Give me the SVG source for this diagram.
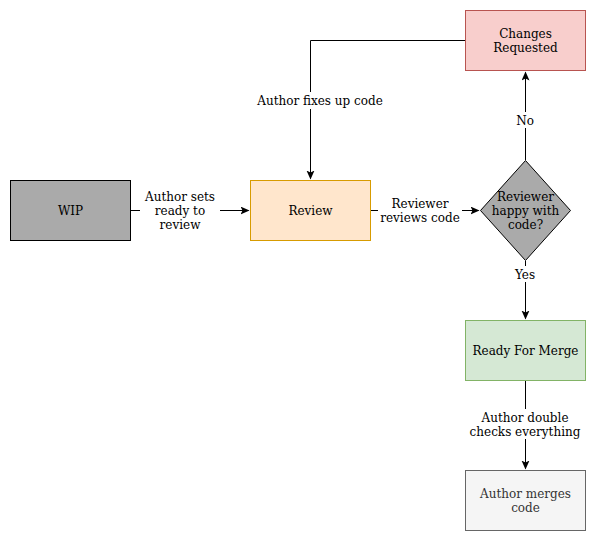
<svg xmlns="http://www.w3.org/2000/svg" width="596" height="542" viewBox="0 0 596 542">
<style>
text{font-family:"DejaVu Serif",serif;font-size:12px;text-anchor:middle;fill:#000}
.e{fill:none;stroke:#000;stroke-width:1}
.lbl{fill:#fff}
</style>
<defs>
<marker id="arr" markerWidth="10" markerHeight="10" refX="8" refY="4" orient="auto" markerUnits="userSpaceOnUse">
<path d="M0,0 L9,4 L0,8 L2,4 Z" fill="#000"/>
</marker>
</defs>
<rect width="596" height="542" fill="#fff"/>
<g id="connectors">
<path class="e" d="M130.5,210.5 H248.5" marker-end="url(#arr)"/>
<rect class="lbl" x="140" y="188" width="80" height="44"/>
<text x="180" y="201">Author sets</text>
<text x="180" y="215">ready to</text>
<text x="180" y="229">review</text>
<path class="e" d="M370.5,210.5 H478.5" marker-end="url(#arr)"/>
<rect class="lbl" x="378" y="195" width="84" height="30"/>
<text x="420" y="208">Reviewer</text>
<text x="420" y="222">reviews code</text>
<path class="e" d="M525.5,160 V72.5" marker-end="url(#arr)"/>
<rect class="lbl" x="513" y="112" width="25" height="16"/>
<text x="525" y="125">No</text>
<path class="e" d="M465.5,40.5 H310.5 V178.5" marker-end="url(#arr)"/>
<rect class="lbl" x="255" y="92" width="130" height="17"/>
<text x="320" y="105">Author fixes up code</text>
<path class="e" d="M525.5,261 V318.5" marker-end="url(#arr)"/>
<rect class="lbl" x="512" y="266" width="27" height="16"/>
<text x="525" y="279">Yes</text>
<path class="e" d="M525.5,380.5 V468.5" marker-end="url(#arr)"/>
<rect class="lbl" x="468" y="409" width="115" height="30"/>
<text x="525" y="422">Author double</text>
<text x="525" y="436">checks everything</text>
</g>
<g id="wip">
<rect x="10.5" y="180.5" width="120" height="60" fill="#aaaaaa" stroke="#000"/>
<text x="70.5" y="215">WIP</text>
</g>
<g id="review">
<rect x="250.5" y="180.5" width="120" height="60" fill="#ffe6cc" stroke="#d79b00"/>
<text x="310.5" y="215">Review</text>
</g>
<g id="decision">
<path d="M525.5,160.5 L570.5,210.5 L525.5,260.5 L480.5,210.5 Z" fill="#aaaaaa" stroke="#000"/>
<text x="525.5" y="201">Reviewer</text>
<text x="525.5" y="215">happy with</text>
<text x="525.5" y="229">code?</text>
</g>
<g id="changes">
<rect x="465.5" y="10.5" width="120" height="60" fill="#f8cecc" stroke="#b85450"/>
<text x="525.5" y="38">Changes</text>
<text x="525.5" y="52">Requested</text>
</g>
<g id="ready">
<rect x="465.5" y="320.5" width="120" height="60" fill="#d5e8d4" stroke="#82b366"/>
<text x="525.5" y="355">Ready For Merge</text>
</g>
<g id="merge">
<rect x="465.5" y="470.5" width="120" height="60" fill="#f5f5f5" stroke="#666666"/>
<text x="525.5" y="498" style="fill:#333333">Author merges</text>
<text x="525.5" y="512" style="fill:#333333">code</text>
</g>
</svg>
